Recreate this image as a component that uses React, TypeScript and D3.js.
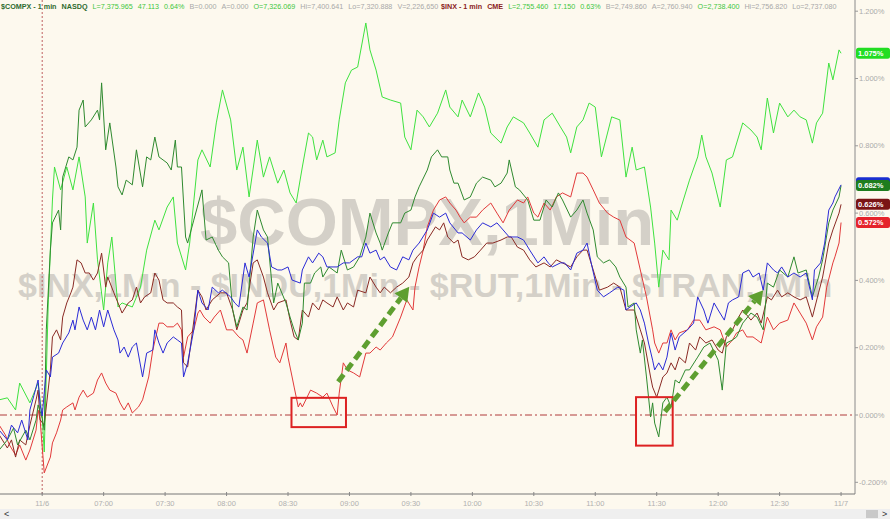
import React from 'react';
import * as d3 from 'd3';

// ---------- data: [minutes after 06:30, % change] ----------
const lightGreen: [number, number][] = [[-21,0.045],[-17,0.051],[-13,0.015],[-11,0.095],[-6,0.036],[-2,0.095],[0,-0.006],[1,-0.11],[3,0.342],[5,0.639],[6,0.737],[9,0.669],[12,0.737],[15,0.669],[18,0.767],[21,0.648],[22,0.511],[25,0.63],[27,0.461],[30,0.312],[32,0.452],[34,0.529],[37,0.321],[39,0.333],[44,0.321],[48,0.38],[51,0.49],[55,0.579],[57,0.55],[61,0.618],[64,0.648],[66,0.511],[70,0.431],[72,0.511],[76,0.758],[78,0.788],[82,0.737],[85,0.868],[88,0.966],[92,0.877],[95,0.728],[98,0.796],[101,0.648],[105,0.817],[108,0.707],[111,0.767],[115,0.689],[118,0.728],[121,0.66],[124,0.63],[127,0.737],[130,0.838],[132,0.826],[134,0.758],[137,0.817],[139,0.767],[143,0.779],[145,0.877],[148,0.987],[151,1.025],[154,1.034],[158,1.165],[160,1.085],[163,1.025],[166,0.945],[170,0.936],[175,0.927],[177,0.826],[180,0.788],[183,0.906],[186,0.886],[189,0.856],[193,0.897],[197,0.966],[199,0.915],[203,0.886],[205,0.936],[209,0.886],[213,0.957],[216,0.915],[219,0.838],[224,0.808],[227,0.856],[230,0.886],[235,0.868],[238,0.838],[242,0.796],[245,0.877],[249,0.897],[253,0.856],[256,0.826],[258,0.779],[261,0.856],[264,0.877],[267,0.927],[270,0.915],[273,0.767],[278,0.886],[282,0.877],[285,0.707],[288,0.796],[290,0.728],[294,0.737],[297,0.618],[299,0.511],[301,0.38],[303,0.49],[306,0.461],[307,0.609],[310,0.579],[313,0.639],[316,0.698],[320,0.767],[322,0.832],[324,0.767],[327,0.719],[331,0.618],[334,0.758],[337,0.767],[342,0.868],[346,0.847],[349,0.826],[351,0.788],[354,0.942],[357,0.838],[360,0.927],[364,0.886],[367,0.906],[370,0.886],[373,0.877],[376,0.808],[378,0.868],[381,0.897],[384,1.046],[386,0.996],[389,1.085],[390,1.075]];

const darkGreen: [number, number][] = [[-21,-0.104],[-17,-0.074],[-14,-0.039],[-12,-0.089],[-8,-0.045],[-6,-0.074],[-3,-0.015],[-2,0.03],[0,-0.009],[1,-0.045],[2,0.253],[4,0.49],[5,0.571],[8,0.609],[9,0.55],[10,0.707],[13,0.767],[15,0.758],[17,0.796],[18,0.906],[20,0.936],[21,0.856],[24,0.877],[27,0.906],[28,0.877],[29,0.987],[31,0.788],[33,0.868],[36,0.737],[37,0.678],[39,0.654],[41,0.698],[44,0.684],[46,0.788],[49,0.678],[51,0.767],[53,0.758],[55,0.826],[57,0.767],[59,0.758],[61,0.749],[63,0.728],[65,0.817],[66,0.737],[68,0.737],[70,0.529],[71,0.511],[74,0.579],[78,0.669],[80,0.52],[83,0.529],[86,0.49],[88,0.47],[91,0.452],[93,0.312],[95,0.262],[98,0.321],[100,0.312],[103,0.529],[105,0.609],[108,0.55],[110,0.529],[113,0.333],[115,0.392],[119,0.333],[121,0.291],[123,0.253],[125,0.223],[127,0.273],[128,0.392],[131,0.392],[133,0.422],[136,0.44],[137,0.41],[140,0.44],[144,0.422],[146,0.49],[149,0.431],[152,0.44],[155,0.47],[158,0.529],[160,0.6],[163,0.541],[165,0.511],[166,0.49],[169,0.541],[171,0.571],[175,0.571],[177,0.6],[180,0.609],[182,0.648],[184,0.678],[188,0.728],[190,0.767],[193,0.788],[195,0.767],[198,0.767],[199,0.728],[201,0.689],[203,0.689],[206,0.639],[209,0.648],[212,0.689],[215,0.707],[219,0.698],[221,0.678],[224,0.689],[227,0.719],[228,0.758],[231,0.678],[233,0.669],[237,0.639],[240,0.579],[243,0.579],[246,0.639],[249,0.618],[252,0.66],[254,0.639],[258,0.588],[261,0.609],[264,0.639],[266,0.6],[269,0.55],[271,0.47],[274,0.452],[277,0.461],[280,0.44],[282,0.41],[285,0.38],[286,0.321],[289,0.333],[290,0.253],[292,0.184],[293,0.223],[295,0.113],[297,-0.006],[298,0.036],[299,-0.024],[301,-0.065],[303,0.036],[305,0.053],[307,0.024],[309,0.104],[311,0.095],[314,0.134],[316,0.134],[320,0.172],[323,0.202],[326,0.214],[330,0.163],[332,0.074],[334,0.214],[337,0.223],[339,0.232],[342,0.273],[346,0.303],[349,0.291],[352,0.253],[354,0.392],[357,0.38],[360,0.431],[364,0.41],[367,0.47],[369,0.422],[373,0.431],[376,0.351],[379,0.41],[381,0.461],[384,0.571],[386,0.609],[389,0.648],[390,0.682]];

const blue: [number, number][] = [[-21,-0.045],[-17,-0.074],[-15,-0.03],[-12,-0.053],[-10,-0.015],[-7,-0.074],[-6,0.015],[-4,0.059],[-2,0.104],[-1,0.03],[0,-0.003],[2,0.134],[4,0.113],[5,0.172],[8,0.184],[10,0.214],[13,0.244],[15,0.282],[16,0.253],[18,0.321],[20,0.282],[22,0.253],[24,0.291],[26,0.253],[28,0.312],[30,0.262],[32,0.312],[35,0.253],[37,0.223],[38,0.184],[40,0.202],[42,0.172],[44,0.202],[46,0.214],[49,0.113],[51,0.184],[54,0.193],[55,0.253],[57,0.214],[59,0.184],[61,0.214],[64,0.232],[66,0.223],[68,0.214],[69,0.113],[71,0.155],[74,0.253],[76,0.371],[78,0.333],[81,0.312],[83,0.38],[86,0.363],[88,0.371],[92,0.351],[94,0.333],[96,0.321],[99,0.452],[101,0.41],[105,0.55],[107,0.529],[110,0.511],[112,0.44],[115,0.431],[117,0.431],[120,0.44],[122,0.401],[126,0.392],[127,0.431],[130,0.47],[132,0.452],[135,0.481],[137,0.47],[139,0.44],[142,0.44],[144,0.44],[147,0.452],[150,0.452],[154,0.47],[156,0.47],[158,0.511],[160,0.481],[163,0.49],[165,0.461],[167,0.47],[170,0.44],[173,0.431],[176,0.47],[179,0.461],[181,0.49],[184,0.511],[188,0.55],[191,0.6],[194,0.588],[197,0.6],[199,0.571],[203,0.541],[205,0.541],[209,0.52],[212,0.55],[215,0.571],[219,0.559],[222,0.571],[225,0.55],[228,0.529],[232,0.529],[235,0.52],[238,0.49],[242,0.452],[245,0.47],[247,0.452],[249,0.44],[253,0.452],[255,0.452],[258,0.431],[261,0.481],[264,0.49],[266,0.511],[268,0.452],[271,0.371],[274,0.351],[277,0.363],[281,0.38],[284,0.371],[285,0.312],[287,0.321],[290,0.333],[292,0.312],[294,0.273],[296,0.214],[298,0.163],[299,0.134],[301,0.155],[303,0.134],[305,0.172],[307,0.244],[309,0.193],[311,0.232],[315,0.253],[318,0.273],[320,0.351],[323,0.312],[325,0.273],[328,0.333],[330,0.312],[333,0.282],[335,0.333],[337,0.342],[340,0.351],[342,0.422],[345,0.431],[347,0.41],[350,0.422],[352,0.371],[354,0.452],[357,0.431],[359,0.422],[361,0.44],[364,0.41],[367,0.422],[370,0.41],[373,0.422],[376,0.342],[377,0.431],[380,0.452],[382,0.511],[384,0.609],[386,0.63],[387,0.648],[390,0.684]];

const maroon: [number, number][] = [[-21,-0.059],[-17,-0.098],[-15,-0.074],[-13,-0.125],[-11,-0.074],[-8,-0.089],[-6,-0.03],[-3,0.045],[-2,0.074],[-1,-0.015],[1,-0.03],[4,0.134],[5,0.232],[7,0.253],[9,0.223],[10,0.291],[12,0.333],[14,0.363],[15,0.38],[17,0.461],[19,0.452],[21,0.422],[23,0.422],[25,0.401],[27,0.422],[29,0.481],[31,0.38],[32,0.41],[35,0.363],[37,0.333],[39,0.303],[42,0.333],[44,0.342],[46,0.38],[48,0.333],[50,0.351],[53,0.363],[55,0.422],[57,0.401],[59,0.342],[61,0.333],[64,0.333],[66,0.321],[68,0.312],[69,0.155],[71,0.143],[73,0.232],[76,0.371],[78,0.351],[80,0.312],[83,0.342],[87,0.363],[90,0.363],[93,0.312],[95,0.253],[98,0.312],[100,0.333],[103,0.452],[105,0.461],[108,0.41],[110,0.363],[113,0.312],[115,0.333],[119,0.342],[121,0.282],[123,0.232],[125,0.223],[127,0.312],[130,0.291],[132,0.333],[135,0.312],[137,0.342],[139,0.333],[142,0.321],[144,0.351],[147,0.312],[149,0.333],[152,0.321],[154,0.371],[158,0.363],[160,0.41],[163,0.38],[165,0.363],[167,0.38],[170,0.363],[173,0.38],[176,0.392],[179,0.41],[181,0.452],[183,0.47],[186,0.49],[188,0.52],[192,0.559],[194,0.55],[196,0.571],[198,0.529],[201,0.511],[203,0.52],[205,0.47],[208,0.461],[211,0.47],[214,0.49],[217,0.511],[220,0.511],[224,0.52],[227,0.529],[229,0.529],[232,0.499],[235,0.49],[238,0.461],[241,0.44],[245,0.452],[248,0.44],[251,0.461],[254,0.452],[258,0.44],[261,0.47],[264,0.49],[266,0.49],[269,0.431],[272,0.371],[276,0.38],[279,0.392],[282,0.38],[285,0.312],[289,0.312],[292,0.253],[294,0.214],[297,0.113],[298,0.083],[300,0.053],[303,0.113],[305,0.125],[307,0.155],[309,0.134],[311,0.172],[314,0.155],[316,0.214],[319,0.193],[321,0.232],[324,0.214],[327,0.223],[330,0.193],[332,0.184],[334,0.232],[337,0.253],[340,0.291],[342,0.312],[346,0.282],[349,0.303],[351,0.273],[354,0.351],[356,0.342],[359,0.371],[361,0.351],[364,0.363],[367,0.351],[370,0.342],[373,0.351],[376,0.291],[379,0.363],[381,0.41],[384,0.511],[386,0.55],[389,0.6],[390,0.626]];

const red: [number, number][] = [[-21,-0.03],[-18,-0.059],[-16,-0.089],[-13,-0.119],[-11,-0.089],[-8,-0.134],[-6,-0.104],[-3,-0.045],[-2,0.015],[-1,-0.015],[1,-0.172],[4,-0.125],[5,-0.083],[7,-0.053],[9,-0.015],[10,0.015],[12,0.024],[15,0.036],[16,0.015],[18,0.053],[20,0.074],[22,0.053],[25,0.065],[27,0.104],[29,0.125],[31,0.095],[33,0.074],[36,0.065],[38,0.036],[40,0.015],[42,0.036],[44,0.006],[47,0.024],[49,0.045],[52,0.113],[54,0.193],[57,0.273],[59,0.273],[61,0.262],[64,0.262],[66,0.273],[68,0.253],[69,0.172],[71,0.232],[74,0.253],[76,0.303],[77,0.312],[79,0.291],[82,0.273],[84,0.291],[87,0.312],[90,0.253],[93,0.253],[96,0.232],[98,0.223],[100,0.184],[103,0.273],[105,0.333],[108,0.342],[111,0.253],[114,0.172],[116,0.155],[119,0.214],[120,0.172],[122,0.113],[123,0.083],[125,0.024],[126,0.036],[127,0.024],[131,0.074],[134,0.065],[137,0.053],[139,0.065],[142,0.024],[144,0],[145,0.065],[147,0.155],[149,0.134],[152,0.125],[155,0.113],[158,0.184],[160,0.184],[163,0.202],[165,0.193],[168,0.214],[171,0.232],[175,0.291],[178,0.342],[181,0.312],[182,0.38],[184,0.44],[186,0.49],[188,0.559],[191,0.609],[194,0.639],[197,0.648],[199,0.63],[202,0.609],[204,0.588],[206,0.571],[209,0.588],[212,0.588],[215,0.609],[219,0.63],[222,0.6],[225,0.571],[228,0.609],[232,0.639],[235,0.63],[237,0.648],[240,0.6],[242,0.588],[245,0.63],[248,0.609],[251,0.648],[254,0.66],[258,0.648],[261,0.719],[264,0.719],[266,0.707],[269,0.669],[272,0.63],[276,0.6],[279,0.588],[282,0.579],[285,0.529],[289,0.511],[292,0.431],[295,0.351],[298,0.253],[299,0.214],[301,0.184],[303,0.214],[305,0.214],[307,0.253],[309,0.223],[311,0.244],[315,0.253],[318,0.282],[321,0.282],[324,0.253],[328,0.262],[331,0.253],[334,0.202],[337,0.223],[339,0.244],[342,0.253],[344,0.232],[347,0.232],[351,0.214],[354,0.291],[357,0.253],[360,0.273],[364,0.282],[367,0.333],[370,0.303],[373,0.273],[376,0.223],[378,0.262],[381,0.291],[383,0.38],[386,0.452],[387,0.47],[389,0.511],[390,0.572]];

const yTicks = [-0.2, 0, 0.2, 0.4, 0.6, 0.8, 1.0, 1.2];
const xTickMinutes = [0, 30, 60, 90, 120, 150, 180, 210, 240, 270, 300, 330, 360, 390];
const xTickLabels = ['11/6', '07:00', '07:30', '08:00', '08:30', '09:00', '09:30', '10:00', '10:30', '11:00', '11:30', '12:00', '12:30', '11/7'];

// annotations in data space
const boxes = [
  { t0: 121.7, t1: 148.3, v0: -0.036, v1: 0.051 },
  { t0: 289.9, t1: 307.8, v0: -0.091, v1: 0.053 },
];
const arrows = [
  { t0: 144.5, v0: 0.099, t1: 179.2, v1: 0.381 },
  { t0: 304, v0: 0.01, t1: 352, v1: 0.371 },
];

const header1 = [
  { s: '$COMPX - 1 min', k: 'name' }, { s: 'NASDQ', k: 'name' },
  { s: 'L=7,375.965', k: 'up' }, { s: '47.113', k: 'up' }, { s: '0.64%', k: 'up' },
  { s: 'B=0.000', k: 'gray' }, { s: 'A=0.000', k: 'gray' }, { s: 'O=7,326.069', k: 'up' },
  { s: 'Hi=7,400.641', k: 'gray' }, { s: 'Lo=7,320.888', k: 'gray' }, { s: 'V=2,226,650', k: 'gray' },
];
const header2 = [
  { s: '$INX - 1 min', k: 'name' }, { s: 'CME', k: 'name' },
  { s: 'L=2,755.460', k: 'up' }, { s: '17.150', k: 'up' }, { s: '0.63%', k: 'up' },
  { s: 'B=2,749.860', k: 'gray' }, { s: 'A=2,760.940', k: 'gray' }, { s: 'O=2,738.400', k: 'up' },
  { s: 'Hi=2,756.820', k: 'gray' }, { s: 'Lo=2,737.080', k: 'gray' },
];

const W = 890;
const H = 519;
const PLOT_R = 855;
const AXIS_Y = 494;

const x = d3.scaleLinear().domain([-20.6, 396.8]).range([0, PLOT_R]);
const y = d3.scaleLinear().domain([-0.2, 1.2]).range([482.3, 11.2]);

const series = [
  { key: 'lg', data: lightGreen, color: '#3fe23f' },
  { key: 'rd', data: red, color: '#e23a3a' },
  { key: 'mr', data: maroon, color: '#8a2a24' },
  { key: 'dg', data: darkGreen, color: '#2f8a2f' },
  { key: 'bl', data: blue, color: '#2b2bd6' },
];

const lineGen = d3.line<[number, number]>().x((d) => x(d[0])).y((d) => y(d[1]));
const fmtPct = (v: number) => `${v.toFixed(3)}%`;

const FONT = '"Liberation Sans", Arial, sans-serif';
const GREEN_ARROW = '#5e9f30';

function Header({ items, x0, nameColor }: { items: { s: string; k: string }[]; x0: number; nameColor: string }) {
  const col = (k: string) => (k === 'name' ? nameColor : k === 'up' ? '#3dc63d' : '#a8a8a8');
  return (
    <text x={x0} y={8.6} fontFamily={FONT} fontSize={7.2}>
      {items.map((it, i) => (
        <tspan key={i} dx={i === 0 ? 0 : 5} fill={col(it.k)} fontWeight={it.k === 'name' ? 'bold' : 'normal'}>
          {it.s}
        </tspan>
      ))}
    </text>
  );
}

function Arrow({ a }: { a: { t0: number; v0: number; t1: number; v1: number } }) {
  const x0 = x(a.t0), y0 = y(a.v0), x1 = x(a.t1), y1 = y(a.v1);
  const ang = Math.atan2(y1 - y0, x1 - x0);
  const hl = 14, hw = 8;
  const bx = x1 - hl * Math.cos(ang), by = y1 - hl * Math.sin(ang);
  const px = -Math.sin(ang), py = Math.cos(ang);
  const pts = [[x1, y1], [bx + px * hw, by + py * hw], [bx - px * hw, by - py * hw]];
  return (
    <g>
      <line x1={x0} y1={y0} x2={bx} y2={by} stroke={GREEN_ARROW} strokeWidth={5} strokeDasharray="9,5" />
      <polygon points={pts.map((p) => p.join(',')).join(' ')} fill={GREEN_ARROW} />
    </g>
  );
}

export default function App() {
  const last = (d: [number, number][]) => d[d.length - 1][1];
  // blue label sits underneath the dark-green one (only its edge shows), as in the reference
  const endLabels = [
    { v: last(lightGreen), bg: '#22dd22', dy: 0, showText: true },
    { v: last(red), bg: '#e5232b', dy: 0, showText: true },
    { v: last(maroon), bg: '#7a1414', dy: 0, showText: true },
    { v: last(blue), bg: '#1a2fd0', dy: -2, showText: false },
    { v: last(darkGreen), bg: '#1e7d1e', dy: 0, showText: true },
  ];
  return (
    <svg width={W} height={H} style={{ position: 'absolute', left: 0, top: 0, display: 'block' }}>
      <defs>
        <clipPath id="plot">
          <rect x={0} y={0} width={PLOT_R} height={AXIS_Y} />
        </clipPath>
      </defs>
      <rect x={0} y={0} width={W} height={H} fill="#fdf9ee" />

      {/* watermarks */}
      <text x={200} y={245} fontFamily={FONT} fontWeight="bold" fontSize={67} fill="#d4d0c8">$COMPX,1Min</text>
      <text x={18} y={297} fontFamily={FONT} fontWeight="bold" fontSize={34} fill="#d4d0c8">$INX,1Min - $INDU,1Min - $RUT,1Min - $TRAN,1Min</text>

      {/* session open marker and zero line */}
      <line x1={x(0)} x2={x(0)} y1={0} y2={AXIS_Y} stroke="#c06060" strokeWidth={1} strokeDasharray="2,2" />
      <line x1={0} x2={PLOT_R} y1={y(0)} y2={y(0)} stroke="#b03a3a" strokeWidth={1} strokeDasharray="7,3,2,3" />

      {/* series */}
      <g clipPath="url(#plot)">
        {series.map((s) => (
          <path key={s.key} d={lineGen(s.data) || ''} fill="none" stroke={s.color} strokeWidth={1} strokeLinejoin="round" />
        ))}
      </g>

      {/* annotations */}
      {boxes.map((b, i) => (
        <rect key={i} x={x(b.t0)} y={y(b.v1)} width={x(b.t1) - x(b.t0)} height={y(b.v0) - y(b.v1)} fill="none" stroke="#dd2222" strokeWidth={2} />
      ))}
      {arrows.map((a, i) => <Arrow key={i} a={a} />)}

      {/* right axis */}
      <line x1={PLOT_R} x2={PLOT_R} y1={0} y2={AXIS_Y} stroke="#8a8a8a" strokeWidth={1} />
      {yTicks.map((t) => (
        <g key={t}>
          <line x1={PLOT_R} x2={PLOT_R + 3} y1={y(t)} y2={y(t)} stroke="#999" />
          <text x={PLOT_R + 4} y={y(t)} dy="0.35em" fontFamily={FONT} fontSize={7.5} fill="#ababab">{fmtPct(t)}</text>
        </g>
      ))}
      {endLabels.map((l, i) => (
        <g key={i}>
          <rect x={PLOT_R + 1} y={y(l.v) - 5.5 + l.dy} width={W - PLOT_R - 1} height={11} rx={2.5} fill={l.bg} />
          {l.showText && (
            <text x={PLOT_R + 3} y={y(l.v) + l.dy} dy="0.36em" fontFamily={FONT} fontWeight="bold" fontSize={7.5} fill="#ffffff">{fmtPct(l.v)}</text>
          )}
        </g>
      ))}

      {/* bottom axis */}
      <line x1={0} x2={PLOT_R} y1={AXIS_Y} y2={AXIS_Y} stroke="#777" strokeWidth={1} />
      {xTickMinutes.map((m, i) => (
        <g key={m}>
          <line x1={x(m)} x2={x(m)} y1={AXIS_Y - 2} y2={AXIS_Y + 2} stroke="#888" />
          <text x={x(m)} y={505.5} textAnchor="middle" fontFamily={FONT} fontSize={7.5} fill="#b0b0b0">{xTickLabels[i]}</text>
        </g>
      ))}

      {/* scroll bar */}
      <rect x={0} y={509} width={W} height={H - 509} fill="#efefef" />
      <text x={4} y={517} fontFamily={FONT} fontSize={9} fill="#333">&lt;</text>
      <rect x={866} y={510} width={12} height={8} fill="#c9c9c9" />
      <text x={882} y={517} fontFamily={FONT} fontSize={9} fill="#333">&gt;</text>

      {/* header */}
      <Header items={header1} x0={1} nameColor="#2e6b2e" />
      <Header items={header2} x0={441} nameColor="#8b1c1c" />
    </svg>
  );
}
